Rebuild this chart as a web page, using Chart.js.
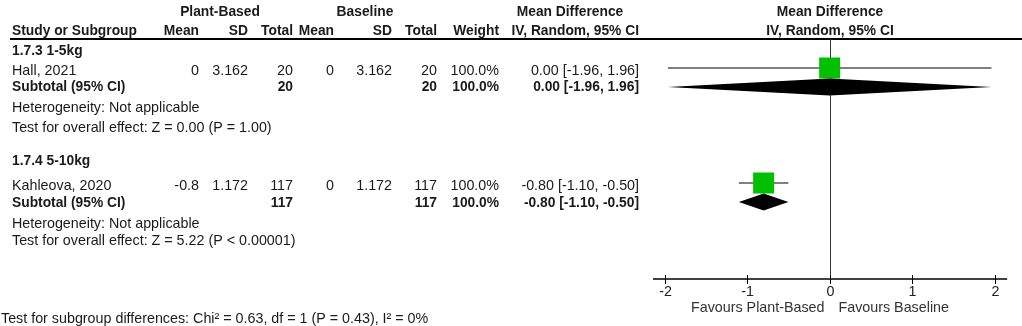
<!DOCTYPE html>
<html>
<head>
<meta charset="utf-8">
<script src="https://cdn.jsdelivr.net/npm/chart.js@4.4.1/dist/chart.umd.min.js"></script>
<style>
  body { margin: 0; background: #fff; }
  #wrap { position: relative; width: 1022px; height: 326px; }
</style>
</head>
<body>
<div id="wrap"><canvas id="myChart"></canvas></div>
<script>
// study level data
var studies = ['Hall, 2021', 'Kahleova, 2020'];
var groups = ['1.7.3 1-5kg', '1.7.4 5-10kg'];
var pbMean = [0, -0.8];
var pbSD = [3.162, 1.172];
var pbTotal = [20, 117];
var blMean = [0, 0];
var blSD = [3.162, 1.172];
var blTotal = [20, 117];
var weight = [100.0, 100.0];
var md = [0.00, -0.80];
var ciLo = [-1.96, -1.10];
var ciHi = [1.96, -0.50];

// subtotals (random effects)
var subMd = [0.00, -0.80];
var subLo = [-1.96, -1.10];
var subHi = [1.96, -0.50];
var zText = ['Z = 0.00 (P = 1.00)', 'Z = 5.22 (P < 0.00001)'];

var xTicks = [-2, -1, 0, 1, 2];

// row positions on the y scale (study row, subtotal row)
var studyRow = [1.45, 7.2];
var subRow = [2.4, 8.15];

var FONT = '"Liberation Sans", Arial, sans-serif';
var FS = 14.3;
var FSB = 13.8;

function fmt2(v) { return v.toFixed(2); }
function ciStr(i, lo, hi, m) { return fmt2(m[i]) + ' [' + fmt2(lo[i]) + ', ' + fmt2(hi[i]) + ']'; }

function txt(ctx, s, x, y, align, bold, color) {
  ctx.font = bold ? ('bold ' + FSB + 'px ' + FONT) : (FS + 'px ' + FONT);
  ctx.textAlign = align || 'left';
  ctx.textBaseline = 'middle';
  ctx.fillStyle = color || '#1a1a1a';
  ctx.fillText(s, x, y);
}

var forestPlugin = {
  id: 'forest',
  beforeDatasetsDraw: function (chart) {
    var ctx = chart.ctx;
    var xs = chart.scales.x;
    var a = chart.chartArea;
    ctx.save();
    // header rule
    ctx.strokeStyle = '#000';
    ctx.lineWidth = 2;
    ctx.beginPath();
    ctx.moveTo(10, a.top);
    ctx.lineTo(1022, a.top);
    ctx.stroke();
    // line of no effect
    var x0 = Math.round(xs.getPixelForValue(0)) + 0.5;
    ctx.strokeStyle = '#333';
    ctx.lineWidth = 1;
    ctx.beginPath();
    ctx.moveTo(x0, a.top);
    ctx.lineTo(x0, a.bottom);
    ctx.stroke();
    // x axis
    ctx.strokeStyle = '#000';
    ctx.lineWidth = 1.5;
    ctx.beginPath();
    ctx.moveTo(a.left, a.bottom);
    ctx.lineTo(a.right, a.bottom);
    ctx.stroke();
    ctx.lineWidth = 1;
    xTicks.forEach(function (t) {
      var px = Math.round(xs.getPixelForValue(t)) + 0.5;
      ctx.beginPath();
      ctx.moveTo(px, a.bottom - 4);
      ctx.lineTo(px, a.bottom + 5);
      ctx.stroke();
      txt(ctx, String(t), px, a.bottom + 13, 'center', false, '#222');
    });
    txt(ctx, 'Favours Plant-Based', x0 - 6, a.bottom + 29, 'right', false, '#333');
    txt(ctx, 'Favours Baseline', x0 + 8, a.bottom + 29, 'left', false, '#333');
    ctx.restore();
  },
  afterDatasetsDraw: function (chart) {
    var ctx = chart.ctx;
    var xs = chart.scales.x;
    var ys = chart.scales.y;
    ctx.save();
    // subtotal diamonds
    ctx.fillStyle = '#000';
    for (var i = 0; i < subMd.length; i++) {
      var y = ys.getPixelForValue(subRow[i]);
      var l = xs.getPixelForValue(subLo[i]);
      var r = xs.getPixelForValue(subHi[i]);
      var m = xs.getPixelForValue(subMd[i]);
      ctx.beginPath();
      ctx.moveTo(l, y);
      ctx.lineTo(m, y - 8.5);
      ctx.lineTo(r, y);
      ctx.lineTo(m, y + 8.5);
      ctx.closePath();
      ctx.fill();
    }
    ctx.restore();
  },
  afterDraw: function (chart) {
    var ctx = chart.ctx;
    ctx.save();
    // column headers
    txt(ctx, 'Plant-Based', 220, 12, 'center', true);
    txt(ctx, 'Baseline', 365, 12, 'center', true);
    txt(ctx, 'Mean Difference', 570, 12, 'center', true);
    txt(ctx, 'Mean Difference', 830, 12, 'center', true);
    var hy = 31;
    txt(ctx, 'Study or Subgroup', 12, hy, 'left', true);
    txt(ctx, 'Mean', 199, hy, 'right', true);
    txt(ctx, 'SD', 248, hy, 'right', true);
    txt(ctx, 'Total', 293, hy, 'right', true);
    txt(ctx, 'Mean', 334, hy, 'right', true);
    txt(ctx, 'SD', 392, hy, 'right', true);
    txt(ctx, 'Total', 437, hy, 'right', true);
    txt(ctx, 'Weight', 499, hy, 'right', true);
    txt(ctx, 'IV, Random, 95% CI', 639, hy, 'right', true);
    txt(ctx, 'IV, Random, 95% CI', 830, hy, 'center', true);

    var groupY = [51, 161];
    var rowY = [71, 186];
    var subY = [87, 203];
    var hetY = [108, 224];
    var testY = [128, 241];
    for (var i = 0; i < studies.length; i++) {
      txt(ctx, groups[i], 12, groupY[i], 'left', true);
      var y = rowY[i];
      txt(ctx, studies[i], 12, y, 'left');
      txt(ctx, String(pbMean[i]), 199, y, 'right');
      txt(ctx, pbSD[i].toFixed(3), 248, y, 'right');
      txt(ctx, String(pbTotal[i]), 293, y, 'right');
      txt(ctx, String(blMean[i]), 334, y, 'right');
      txt(ctx, blSD[i].toFixed(3), 392, y, 'right');
      txt(ctx, String(blTotal[i]), 437, y, 'right');
      txt(ctx, weight[i].toFixed(1) + '%', 499, y, 'right');
      txt(ctx, ciStr(i, ciLo, ciHi, md), 639, y, 'right');
      y = subY[i];
      txt(ctx, 'Subtotal (95% CI)', 12, y, 'left', true);
      txt(ctx, String(pbTotal[i]), 293, y, 'right', true);
      txt(ctx, String(blTotal[i]), 437, y, 'right', true);
      txt(ctx, weight[i].toFixed(1) + '%', 499, y, 'right', true);
      txt(ctx, ciStr(i, subLo, subHi, subMd), 639, y, 'right', true);
      txt(ctx, 'Heterogeneity: Not applicable', 12, hetY[i], 'left');
      txt(ctx, 'Test for overall effect: ' + zText[i], 12, testY[i], 'left');
    }
    txt(ctx, 'Test for subgroup differences: Chi\u00b2 = 0.63, df = 1 (P = 0.43), I\u00b2 = 0%', 1, 319, 'left');
    ctx.restore();
  }
};

function getGrafic() {
  var datasets = [];

  // confidence interval whiskers
  for (var i = 0; i < studies.length; i++) {
    datasets.push({
      type: 'line',
      label: studies[i] + ' CI',
      data: [{ x: ciLo[i], y: studyRow[i] }, { x: ciHi[i], y: studyRow[i] }],
      borderColor: '#000',
      borderWidth: 1,
      pointRadius: 0,
      fill: false,
      order: 2
    });
  }

  // point estimates, square size by weight
  datasets.push({
    type: 'scatter',
    label: 'Mean difference',
    data: md.map(function (v, i) { return { x: v, y: studyRow[i] }; }),
    pointStyle: 'rect',
    pointRadius: weight.map(function (w) { return 14.85 * Math.sqrt(w / 100); }),
    backgroundColor: '#00c000',
    borderWidth: 0,
    order: 1
  });

  var ctx = document.getElementById('myChart').getContext('2d');
  var chart = new Chart(ctx, {
    type: 'scatter',
    data: { datasets: datasets },
    options: {
      responsive: true,
      maintainAspectRatio: false,
      animation: false,
      layout: { padding: { left: 653, right: 12, top: 39, bottom: 47 } },
      plugins: { legend: { display: false }, tooltip: { enabled: false } },
      scales: {
        x: { type: 'linear', min: -2.14, max: 2.15, display: false },
        y: { type: 'linear', min: 0, max: 12, reverse: true, display: false }
      }
    },
    plugins: [forestPlugin]
  });
}

function init() {
  getGrafic();
}

init();
</script>
</body>
</html>
